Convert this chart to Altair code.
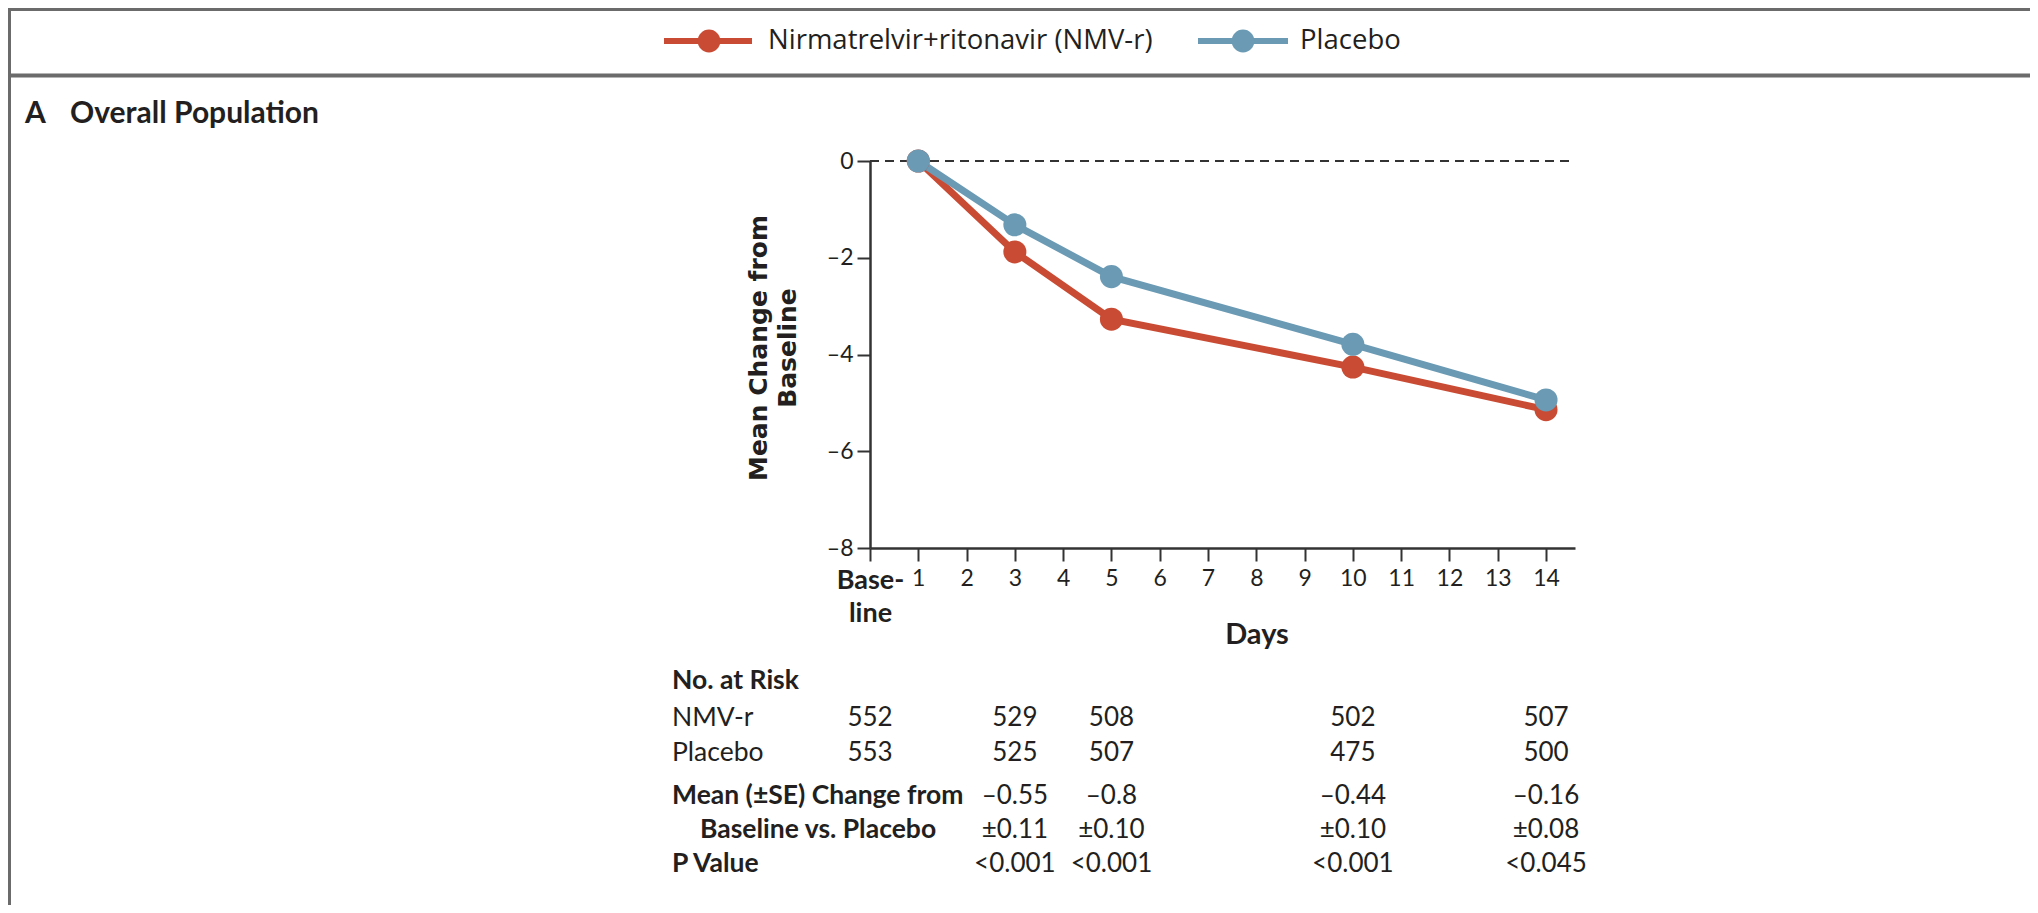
import altair as alt
import pandas as pd

# ---------------- data ----------------
days = [1, 3, 5, 10, 14]
nmv_change = [0.0, -1.88, -3.27, -4.26, -5.14]
placebo_change = [0.0, -1.32, -2.39, -3.79, -4.94]
series_names = ["Nirmatrelvir+ritonavir (NMV-r)", "Placebo"]

x_ticks = list(range(0, 15))
y_ticks = [-8, -6, -4, -2, 0]

risk_days = [0, 3, 5, 10, 14]
nmv_at_risk = [552, 529, 508, 502, 507]
placebo_at_risk = [553, 525, 507, 475, 500]

diff_days = [3, 5, 10, 14]
diff_mean = ["\u20130.55", "\u20130.8", "\u20130.44", "\u20130.16"]
diff_se = ["\u00b10.11", "\u00b10.10", "\u00b10.10", "\u00b10.08"]
p_values = ["<0.001", "<0.001", "<0.001", "<0.045"]

row_labels = ["No. at Risk", "NMV-r", "Placebo", "Mean (\u00b1SE) Change from",
              "Baseline vs. Placebo", "P Value"]

# ---------------- styling ----------------
RED = "#C94B33"
BLUE = "#6A9AB4"
INK = "#231F20"
FRAME = "#6B6B6B"
W, H = 2022, 897
FONT = "Lato"

xs = alt.Scale(domain=[0, 14.6], range=[862, 1567], nice=False, zero=False)
ys = alt.Scale(domain=[-8, 0], range=[540, 153], nice=False, zero=False)

xaxis = alt.Axis(
    values=x_ticks, title=None, grid=False,
    tickSize=13, tickWidth=2, tickColor="#333", domainColor="#333", domainWidth=2.5,
    labelFont=FONT, labelColor=INK,
    labelFontSize={"condition": {"test": "datum.value === 0", "value": 27}, "value": 23},
    labelFontWeight={"condition": {"test": "datum.value === 0", "value": "bold"}, "value": "normal"},
    labelExpr="datum.value === 0 ? ['Base-', 'line'] : datum.label",
    labelLineHeight=33, labelPadding=6, labelOverlap=False, labelFlush=False, labelBound=False,
    offset=-(H - 540),
)
yaxis = alt.Axis(
    values=y_ticks, title=None, grid=False,
    tickSize=13, tickWidth=2, tickColor="#333", domainColor="#333", domainWidth=2.5,
    labelFont=FONT, labelColor=INK, labelFontSize=23, labelPadding=4,
    labelExpr="datum.value < 0 ? '\u2013' + format(-datum.value, 'd') : datum.label",
    labelOverlap=False, labelFlush=False, labelBound=False,
    offset=-862,
)

X = alt.X("day:Q", scale=xs, axis=xaxis)
Y = alt.Y("change:Q", scale=ys, axis=yaxis)

nmv_df = pd.DataFrame({"day": days, "change": nmv_change})
pbo_df = pd.DataFrame({"day": days, "change": placebo_change})
one = pd.DataFrame({"k": [0]})

# zero reference line
zero_line = alt.Chart(one).mark_rule(color="#333", strokeWidth=2, strokeDash=[9, 6]).encode(
    x=alt.datum(0, scale=xs, axis=xaxis), x2=alt.datum(14.6), y=alt.datum(0, scale=ys, axis=yaxis)
)

line_n = alt.Chart(nmv_df).mark_line(color=RED, strokeWidth=7).encode(x=X, y=Y)
pts_n = alt.Chart(nmv_df).mark_circle(color=RED, size=530, opacity=1).encode(x=X, y=Y)
line_p = alt.Chart(pbo_df).mark_line(color=BLUE, strokeWidth=7).encode(x=X, y=Y)
pts_p = alt.Chart(pbo_df).mark_circle(color=BLUE, size=530, opacity=1).encode(x=X, y=Y)

# ---------------- frame ----------------
top_border = alt.Chart(one).mark_rule(color=FRAME, strokeWidth=3).encode(
    x=alt.value(0), x2=alt.value(W), y=alt.value(1.5))
sep_border = alt.Chart(one).mark_rule(color=FRAME, strokeWidth=4).encode(
    x=alt.value(0), x2=alt.value(W), y=alt.value(67.5))
left_border = alt.Chart(one).mark_rule(color=FRAME, strokeWidth=3).encode(
    x=alt.value(1.5), y=alt.value(0), y2=alt.value(H))

# ---------------- legend ----------------
def legend_item(color, x0, x1, cx, tx, label):
    ln = alt.Chart(one).mark_rule(color=color, strokeWidth=6).encode(
        x=alt.value(x0), x2=alt.value(x1), y=alt.value(33))
    dot = alt.Chart(one).mark_circle(color=color, size=520, opacity=1).encode(
        x=alt.value(cx), y=alt.value(33))
    txt = alt.Chart(one).mark_text(text=label, align="left", baseline="middle",
                                   font="Open Sans", fontSize=27.5, color=INK).encode(
        x=alt.value(tx), y=alt.value(33))
    return [ln, dot, txt]

legend_layers = (legend_item(RED, 656, 744, 701, 760, series_names[0])
                 + legend_item(BLUE, 1190, 1280, 1235, 1292, series_names[1]))

# ---------------- titles ----------------
panel_a = alt.Chart(one).mark_text(text="A", align="left", baseline="alphabetic",
                                   font=FONT, fontWeight="bold", fontSize=30, color=INK).encode(
    x=alt.value(17), y=alt.value(115))
panel_t = alt.Chart(one).mark_text(text="Overall Population", align="left", baseline="alphabetic",
                                   font=FONT, fontWeight="bold", fontSize=30, color=INK).encode(
    x=alt.value(62), y=alt.value(115))
ytitle1 = alt.Chart(one).mark_text(text="Mean Change from", angle=270, align="center", baseline="middle",
                                   font="DejaVu Sans", fontWeight="bold", fontSize=25, color=INK).encode(
    x=alt.value(751), y=alt.value(340))
ytitle2 = alt.Chart(one).mark_text(text="Baseline", angle=270, align="center", baseline="middle",
                                   font="DejaVu Sans", fontWeight="bold", fontSize=25, color=INK).encode(
    x=alt.value(780), y=alt.value(340))
xtitle = alt.Chart(one).mark_text(text="Days", align="center", baseline="middle",
                                  font=FONT, fontWeight="bold", fontSize=29, color=INK).encode(
    x=alt.value(1249), y=alt.value(627))

# ---------------- table ----------------
ROW_Y = [673, 710, 745, 788, 822, 856]
ROW_X = [664, 664, 664, 664, 692, 664]
ROW_BOLD = [True, False, False, True, True, True]

row_layers = []
for lab, yy, xx, bold in zip(row_labels, ROW_Y, ROW_X, ROW_BOLD):
    row_layers.append(alt.Chart(one).mark_text(
        text=lab, align="left", baseline="middle", font=FONT, fontSize=26.5,
        fontWeight="bold" if bold else "normal", color=INK).encode(
        x=alt.value(xx), y=alt.value(yy)))

def table_row(xvals, labels, yy):
    df = pd.DataFrame({"day": xvals, "label": [str(v) for v in labels]})
    return alt.Chart(df).mark_text(align="center", baseline="middle", font=FONT,
                                   fontSize=26, color=INK).encode(
        x=alt.X("day:Q", scale=xs, axis=xaxis), y=alt.value(yy), text="label:N")

table_layers = [
    table_row(risk_days, nmv_at_risk, ROW_Y[1]),
    table_row(risk_days, placebo_at_risk, ROW_Y[2]),
    table_row(diff_days, diff_mean, ROW_Y[3]),
    table_row(diff_days, diff_se, ROW_Y[4]),
    table_row(diff_days, p_values, ROW_Y[5]),
]

chart = alt.layer(
    zero_line, line_n, line_p, pts_n, pts_p,
    top_border, sep_border, left_border,
    *legend_layers, panel_a, panel_t, ytitle1, ytitle2, xtitle,
    *row_layers, *table_layers,
).properties(
    width=W, height=H,
    autosize=alt.AutoSizeParams(type="none"),
    padding=0,
).configure_view(strokeWidth=0)

chart.save("out.html", embed_options={"renderer": "svg", "actions": False})
